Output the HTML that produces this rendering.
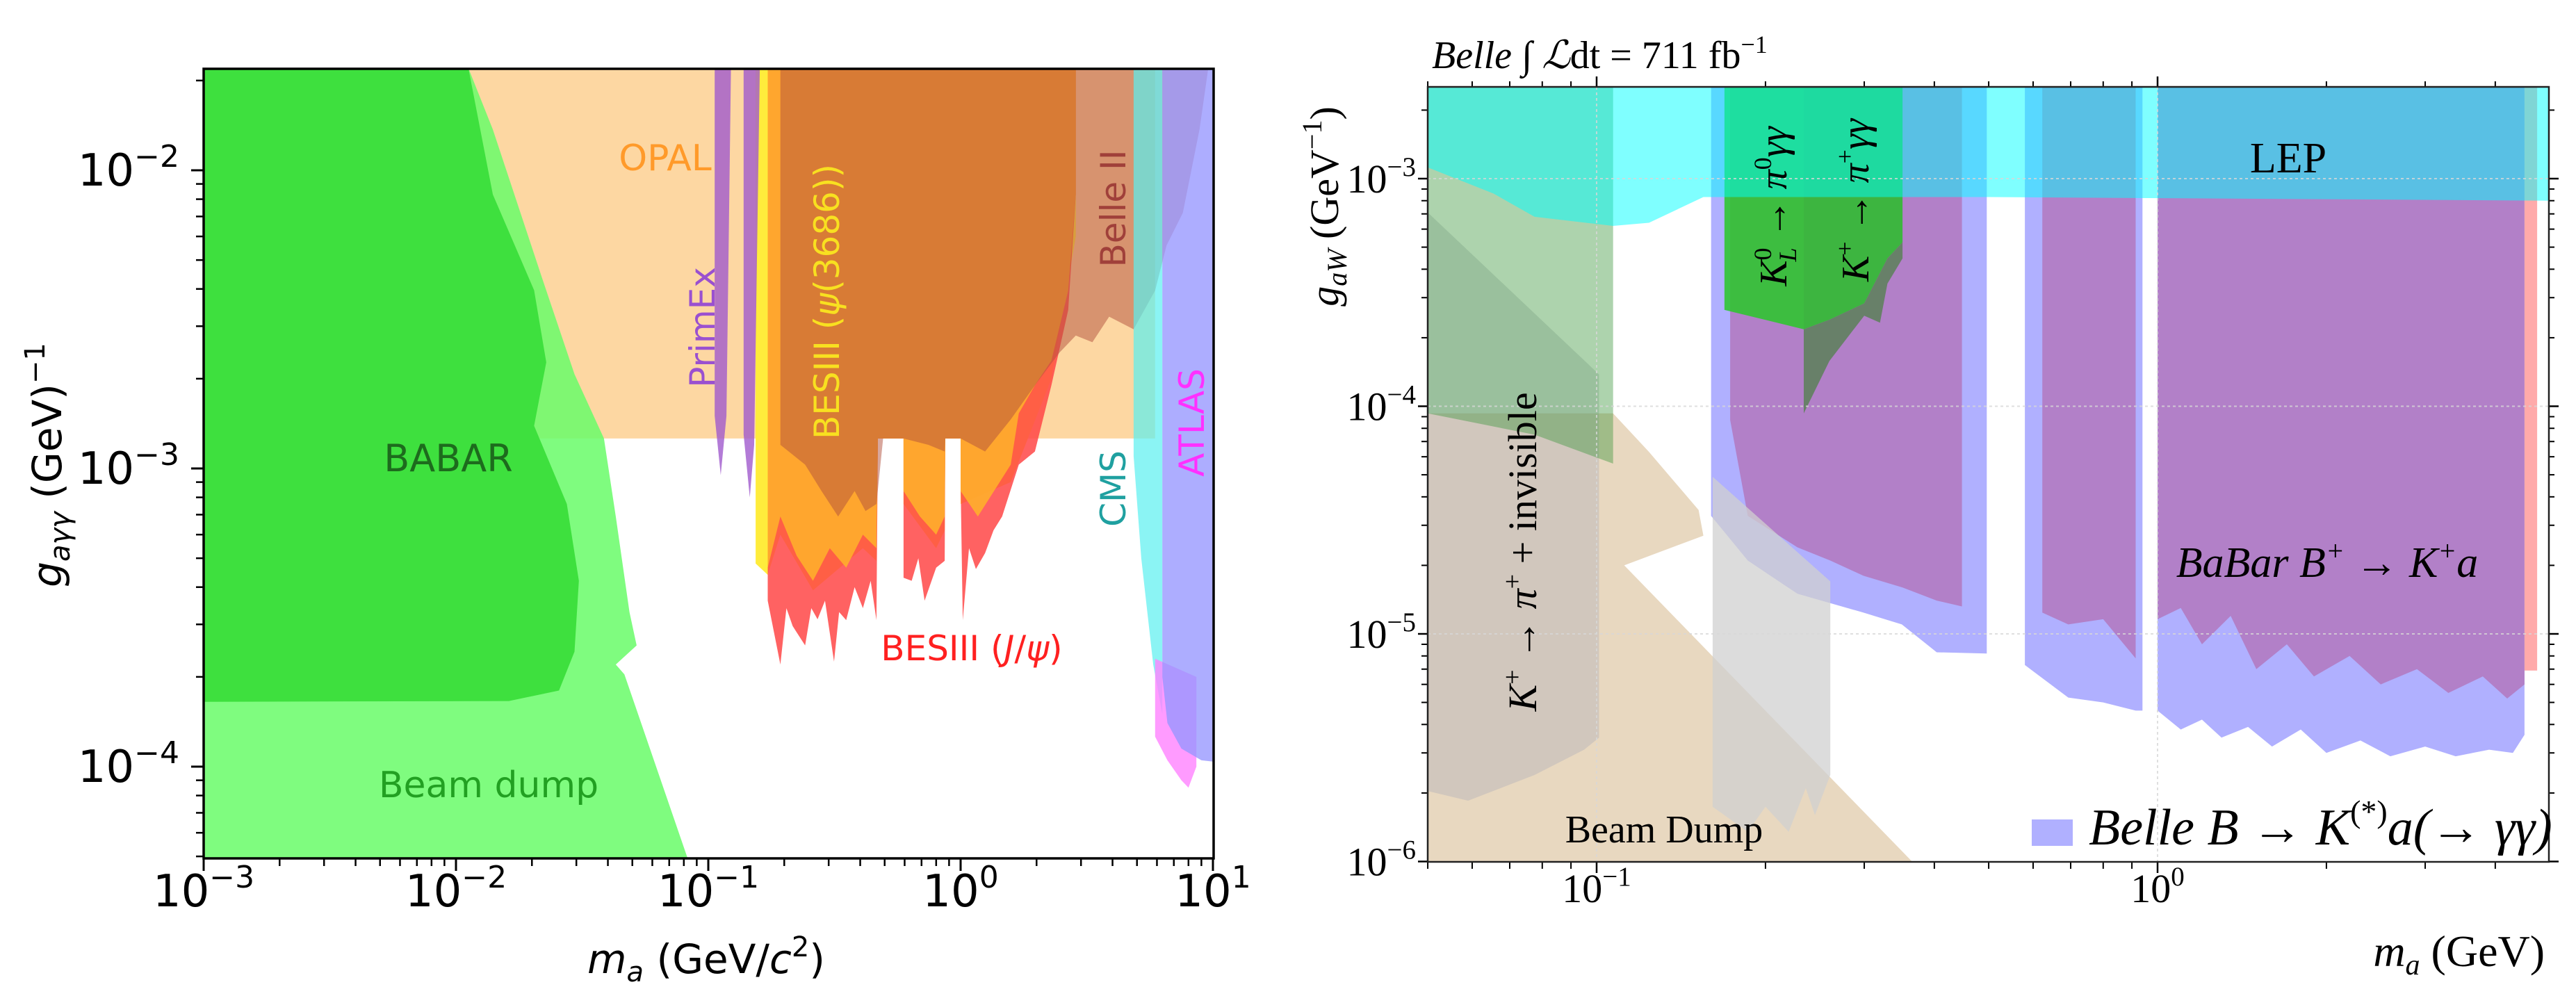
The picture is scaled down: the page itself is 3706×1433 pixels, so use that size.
<!DOCTYPE html>
<html><head><meta charset="utf-8"><title>Axion constraints</title>
<style>
html,body{margin:0;padding:0;background:#fff;width:3706px;height:1433px;overflow:hidden;}
svg{display:block;overflow:hidden;}
.sans{font-family:"DejaVu Sans","Liberation Sans",sans-serif;}
.serif{font-family:"Liberation Serif","DejaVu Serif",serif;}
</style></head>
<body>
<svg id="fig" xmlns="http://www.w3.org/2000/svg" width="3706" height="1433" viewBox="0 0 3706 1433">
<defs>
<clipPath id="clipL"><rect x="293" y="99" width="1453" height="1136"/></clipPath>
<clipPath id="clipR"><rect x="2054" y="125" width="1613" height="1115"/></clipPath>
</defs>
<rect x="0" y="0" width="3706" height="1433" fill="#fff"/>
<g id="layerL" clip-path="url(#clipL)"></g>
<g id="axesL"></g>
<g id="layerR" clip-path="url(#clipR)"></g>
<g id="axesR"></g>

<g class="sans">
<text x="957" y="245" font-size="52" fill="#ff9a2a" text-anchor="middle">OPAL</text>
<text x="645" y="678" font-size="54" fill="#1d6b1d" text-anchor="middle">BABAR</text>
<text x="703" y="1147" font-size="52" fill="#22a022" text-anchor="middle">Beam dump</text>
<text transform="translate(1028,471) rotate(-90)" font-size="50" fill="#9a50d0" text-anchor="middle">PrimEx</text>
<text transform="translate(1207,434) rotate(-90)" font-size="50" fill="#f8e020" text-anchor="middle">BESIII (<tspan font-style="italic">ψ</tspan>(3686))</text>
<text transform="translate(1619,300) rotate(-90)" font-size="50" fill="#a0403a" text-anchor="middle">Belle II</text>
<text transform="translate(1619,703) rotate(-90)" font-size="50" fill="#1fa0a0" text-anchor="middle">CMS</text>
<text transform="translate(1732,608) rotate(-90)" font-size="50" fill="#ff30ff" text-anchor="middle">ATLAS</text>
<text x="1398" y="950" font-size="50" fill="#ff2020" text-anchor="middle">BESIII (<tspan font-style="italic">J</tspan>/<tspan font-style="italic">ψ</tspan>)</text>
<text transform="translate(88,669) rotate(-90)" font-size="58" fill="#000" text-anchor="middle"><tspan font-style="italic">g</tspan><tspan font-style="italic" font-size="40" dy="12">aγγ</tspan><tspan dy="-12"> (GeV)</tspan><tspan font-size="40" dy="-24">−1</tspan></text>
<text x="1016" y="1400" font-size="58" fill="#000" text-anchor="middle"><tspan font-style="italic">m</tspan><tspan font-style="italic" font-size="40" dy="12">a</tspan><tspan dy="-12"> (GeV/</tspan><tspan font-style="italic">c</tspan><tspan font-size="40" dy="-24">2</tspan><tspan dy="24">)</tspan></text>
</g>

<g class="serif">
<text x="2060" y="98" font-size="56" fill="#000"><tspan font-style="italic">Belle</tspan> ∫ <tspan font-style="italic">ℒ</tspan>dt = 711 fb<tspan font-size="36" dy="-22">−1</tspan></text>
<text x="3292" y="248" font-size="62" fill="#000" text-anchor="middle">LEP</text>
<text x="3348" y="830" font-size="62" fill="#000" text-anchor="middle" font-style="italic">BaBar B<tspan font-size="40" dy="-24">+</tspan><tspan dy="24"> → K</tspan><tspan font-size="40" dy="-24">+</tspan><tspan dy="24">a</tspan></text>
<text x="2394" y="1212" font-size="56" fill="#000" text-anchor="middle">Beam Dump</text>
<text transform="translate(2210,794) rotate(-90)" font-size="58" fill="#000" text-anchor="middle"><tspan font-style="italic">K</tspan><tspan font-size="38" dy="-22">+</tspan><tspan dy="22"> → </tspan><tspan font-style="italic">π</tspan><tspan font-size="38" dy="-22">+</tspan><tspan dy="22"> + invisible</tspan></text>
<text transform="translate(2570,297) rotate(-90)" font-size="56" fill="#000" text-anchor="middle"><tspan font-style="italic">K</tspan><tspan font-size="36" dy="-22">0</tspan><tspan font-size="36" font-style="italic" dx="-20" dy="36">L</tspan><tspan dy="-14"> → </tspan><tspan font-style="italic">π</tspan><tspan font-size="36" dy="-22">0</tspan><tspan font-style="italic" dy="22">γγ</tspan></text>
<text transform="translate(2688,288) rotate(-90)" font-size="56" fill="#000" text-anchor="middle"><tspan font-style="italic">K</tspan><tspan font-size="36" dy="-22">+</tspan><tspan dy="22"> → </tspan><tspan font-style="italic">π</tspan><tspan font-size="36" dy="-22">+</tspan><tspan font-style="italic" dy="22">γγ</tspan></text>
<text transform="translate(1925,297) rotate(-90)" font-size="58" fill="#000" text-anchor="middle"><tspan font-style="italic">g</tspan><tspan font-style="italic" font-size="40" dy="12">aW</tspan><tspan dy="-12">  (GeV</tspan><tspan font-size="40" dy="-24">−1</tspan><tspan dy="24">)</tspan></text>
<text x="3661" y="1390" font-size="64" fill="#000" text-anchor="end"><tspan font-style="italic">m</tspan><tspan font-style="italic" font-size="42" dy="12">a</tspan><tspan dy="-12"> (GeV)</tspan></text>
<rect x="2923" y="1179" width="59" height="38" fill="#b0b0ff"/>
<text x="3005" y="1215" font-size="74" fill="#000" font-style="italic">Belle B → K<tspan font-size="46" dy="-32" font-style="normal">(*)</tspan><tspan dy="32">a(→ γγ)</tspan></text>
</g>
</svg>

<script>
const NS = "http://www.w3.org/2000/svg";
const TOPL = 0.022, BOTL = 4.9e-5, TOPR = 0.0026, BOTR = 1e-6;

// ---- Left chart data: [mass GeV, g_agg] ----
const opalRegion = [[0.01,TOPL],[5.9,TOPL],[5.9,1.26e-3],[0.01,1.26e-3]];
const beamDumpLeft = [[0.001,TOPL],[0.0112,TOPL],[0.014,0.0137],[0.0219,4.37e-3],[0.0295,2.07e-3],[0.0386,1.26e-3],[0.043,6.9e-4],[0.0487,3.3e-4],[0.052,2.55e-4],[0.043,2.2e-4],[0.0465,2.04e-4],[0.083,BOTL],[0.001,BOTL]];
const babarRegion = [[0.001,TOPL],[0.0112,TOPL],[0.014,8.3e-3],[0.0204,3.96e-3],[0.0228,2.27e-3],[0.0204,1.39e-3],[0.0275,7.6e-4],[0.0307,4.2e-4],[0.0295,2.43e-4],[0.0256,1.8e-4],[0.0162,1.66e-4],[0.001,1.65e-4]];
const primex1 = [[0.106,TOPL],[0.106,1.5e-3],[0.112,9.5e-4],[0.118,1.5e-3],[0.123,TOPL]];
const primex2 = [[0.138,TOPL],[0.138,1.3e-3],[0.146,8e-4],[0.152,1.2e-3],[0.16,TOPL]];
const yellowBottom = [[0.154,4.8e-4],[0.172,4.4e-4],[0.193,6.0e-4],[0.26,3.9e-4],[0.41,5.4e-4],[0.464,4.9e-4],[0.47,1.26e-3],[0.594,1.26e-3],[0.594,7.6e-4],[0.80,5.4e-4],[0.865,6.2e-4],[0.87,1.26e-3],[1.0,1.26e-3],[1.0,7.6e-4],[1.58,9.0e-4],[2.29,2.0e-3],[2.86,6e-3]];
const jpsiBottom = [[0.172,3.6e-4],[0.193,2.2e-4],[0.204,3.4e-4],[0.216,2.96e-4],[0.242,2.55e-4],[0.256,3.4e-4],[0.271,3.12e-4],[0.29,3.6e-4],[0.315,2.25e-4],[0.33,3.3e-4],[0.352,3.1e-4],[0.38,4.0e-4],[0.41,3.4e-4],[0.44,4.2e-4],[0.464,3.1e-4],[0.47,1.26e-3],[0.594,1.26e-3],[0.594,4.3e-4],[0.64,4.2e-4],[0.68,5.0e-4],[0.72,3.6e-4],[0.80,4.65e-4],[0.865,4.9e-4],[0.87,1.26e-3],[1.0,1.26e-3],[1.0,8.9e-4],[1.02,3.1e-4],[1.08,5.4e-4],[1.15,4.6e-4],[1.25,5.2e-4],[1.35,6.2e-4],[1.46,6.9e-4],[1.70,1.03e-3],[1.97,1.14e-3],[2.29,1.9e-3],[2.67,3.4e-3],[2.86,8.3e-3]];
const psiBottom = [[0.172,4.65e-4],[0.193,6.9e-4],[0.224,5.1e-4],[0.26,4.2e-4],[0.303,5.4e-4],[0.352,4.65e-4],[0.41,6.0e-4],[0.464,5.4e-4],[0.47,1.26e-3],[0.594,1.26e-3],[0.594,8.4e-4],[0.69,6.9e-4],[0.80,6.0e-4],[0.865,6.9e-4],[0.87,1.26e-3],[1.0,1.26e-3],[1.0,8.4e-4],[1.17,6.9e-4],[1.58,1.03e-3],[1.70,1.53e-3],[1.97,1.9e-3],[2.29,2.3e-3],[2.67,3.95e-3],[2.86,8.3e-3]];
const belle2Bottom = [[0.193,1.2e-3],[0.242,1.03e-3],[0.281,8.4e-4],[0.327,6.9e-4],[0.38,8.4e-4],[0.42,7.2e-4],[0.464,7.6e-4],[0.493,1.26e-3],[0.594,1.26e-3],[0.745,1.2e-3],[0.865,1.14e-3],[0.87,1.26e-3],[1.0,1.26e-3],[1.25,1.14e-3],[1.58,1.46e-3],[1.97,1.9e-3],[2.47,2.45e-3],[2.86,2.79e-3],[3.33,2.65e-3],[3.88,3.23e-3],[4.85,2.93e-3],[5.9,3.95e-3],[6.55,5.6e-3],[7.6,7.2e-3],[8.85,0.0137],[9.55,0.0215]];
const cmsRegion = [[4.85,TOPL],[4.85,1.1e-3],[5.2,5e-4],[5.8,2.2e-4],[6.3,1.5e-4],[6.3,TOPL]];
const magentaRegion = [[5.9,2.3e-4],[5.9,1.26e-4],[6.6,1.05e-4],[7.5,9e-5],[8.0,8.5e-5],[8.6,1.0e-4],[8.6,2e-4]];
const atlasRegion = [[6.3,TOPL],[6.3,2e-4],[6.6,1.4e-4],[7.5,1.15e-4],[9.0,1.05e-4],[10,1.04e-4],[10,TOPL]];
const xTicksL = [-3,-2,-1,0,1];
const yTicksL = [-4,-3,-2];

// ---- Right chart data: [mass GeV, g_aW] ----
const beamDumpRight = [[0.05,9.3e-5],[0.107,9.3e-5],[0.124,6.3e-5],[0.152,3.5e-5],[0.155,2.7e-5],[0.112,2.0e-5],[0.365,BOTR],[0.05,BOTR]];
const kInvGrey = [[0.05,7.1e-4],[0.101,1.38e-4],[0.101,3.5e-6],[0.095,3.1e-6],[0.0775,2.4e-6],[0.059,1.85e-6],[0.05,2.04e-6]];
const kInvGreen = [[0.05,TOPR],[0.107,TOPR],[0.107,5.6e-5],[0.0775,7.5e-5],[0.05,9.3e-5]];
const belleLav1 = [[0.16,TOPR],[0.16,3.3e-5],[0.186,2.1e-5],[0.228,1.5e-5],[0.299,1.24e-5],[0.35,1.1e-5],[0.404,8.3e-6],[0.496,8.2e-6],[0.496,TOPR]];
const belleLav2 = [[0.58,TOPR],[0.58,7.3e-6],[0.693,5.25e-6],[0.8,5.0e-6],[0.914,4.6e-6],[0.94,4.6e-6],[0.94,TOPR]];
const belleLav3 = [[1.0,TOPR],[1.0,4.6e-6],[1.1,3.8e-6],[1.2,4.2e-6],[1.3,3.5e-6],[1.45,3.9e-6],[1.6,3.2e-6],[1.8,3.8e-6],[2.0,3.0e-6],[2.3,3.4e-6],[2.6,2.9e-6],[3.0,3.2e-6],[3.4,2.9e-6],[3.9,3.1e-6],[4.3,3.0e-6],[4.51,3.6e-6],[4.51,TOPR]];
const babarPur1 = [[0.173,TOPR],[0.173,8.7e-5],[0.186,3.3e-5],[0.228,2.4e-5],[0.261,2.1e-5],[0.299,1.8e-5],[0.351,1.6e-5],[0.404,1.4e-5],[0.448,1.32e-5],[0.448,TOPR]];
const babarPur2 = [[0.623,TOPR],[0.623,1.24e-5],[0.693,1.1e-5],[0.8,1.16e-5],[0.914,7.8e-6],[0.914,TOPR]];
const babarPur3 = [[1.0,TOPR],[1.0,1.16e-5],[1.1,1.3e-5],[1.2,9e-6],[1.35,1.2e-5],[1.5,7e-6],[1.7,9e-6],[1.9,6.5e-6],[2.2,8e-6],[2.5,6e-6],[2.9,7e-6],[3.3,5.5e-6],[3.8,6.5e-6],[4.2,5.2e-6],[4.51,6e-6],[4.51,TOPR]];
const pinkStrip = [[4.51,TOPR],[4.51,6.9e-6],[4.75,6.9e-6],[4.75,TOPR]];
const greyCenter = [[0.161,4.9e-5],[0.261,1.7e-5],[0.261,2.4e-6],[0.245,1.6e-6],[0.236,2.1e-6],[0.22,1.35e-6],[0.2,1.74e-6],[0.186,1.35e-6],[0.161,1.74e-6]];
const klGreen = [[0.169,TOPR],[0.234,TOPR],[0.234,2.18e-4],[0.169,2.65e-4]];
const kpGreen = [[0.234,TOPR],[0.351,TOPR],[0.351,5.25e-4],[0.33,4.46e-4],[0.3,2.83e-4],[0.26,2.4e-4],[0.234,2.18e-4]];
const kpDark = [[0.234,2.18e-4],[0.26,2.4e-4],[0.3,2.83e-4],[0.33,4.46e-4],[0.351,5.25e-4],[0.351,4.46e-4],[0.33,3.46e-4],[0.32,2.33e-4],[0.3,2.5e-4],[0.26,1.58e-4],[0.234,9.3e-5]];
const lepBottom = [[0.05,1.12e-3],[0.0655,8.6e-4],[0.0775,6.8e-4],[0.107,6.2e-4],[0.124,6.4e-4],[0.155,8.3e-4],[0.5,8.3e-4],[5,8.0e-4]];
const xTicksR = [-1,0];
const yTicksR = [-6,-5,-4,-3];

function xL(m){ return 293 + 363*(Math.log10(m)+3); }
function yL(g){ return 245 - 429*(Math.log10(g)+2); }
function xR(m){ return 3104 + 807*Math.log10(m); }
function yR(g){ return 257 - 327.5*(Math.log10(g)+3); }

function pathD(pts, fx, fy){
  return pts.map((p,i)=>(i?'L':'M')+fx(p[0]).toFixed(1)+','+fy(p[1]).toFixed(1)).join('')+'Z';
}
function withTop(bottom, top){
  return [[bottom[0][0],top]].concat(bottom).concat([[bottom[bottom.length-1][0],top]]);
}
function addPoly(parent, pts, fx, fy, fill, name){
  const p = document.createElementNS(NS,'path');
  p.setAttribute('d', pathD(pts, fx, fy));
  p.setAttribute('fill', fill);
  
  
  parent.appendChild(p);
}

const gL = document.getElementById('layerL');
addPoly(gL, opalRegion, xL, yL, 'rgba(250,172,60,0.48)', 'opal-region');
addPoly(gL, beamDumpLeft, xL, yL, 'rgba(106,252,106,0.86)', 'beam-dump-region');
addPoly(gL, babarRegion, xL, yL, 'rgb(62,224,62)', 'babar-region');
addPoly(gL, withTop(yellowBottom,TOPL), xL, yL, 'rgb(255,236,60)', 'besiii-psi3686-yellow-edge');
addPoly(gL, withTop(jpsiBottom,TOPL), xL, yL, 'rgba(255,70,70,0.85)', 'besiii-jpsi-region');
addPoly(gL, withTop(psiBottom,TOPL), xL, yL, 'rgba(255,172,45,0.92)', 'besiii-psi3686-region');
addPoly(gL, withTop(belle2Bottom,TOPL), xL, yL, 'rgba(178,80,60,0.5)', 'belle-ii-region');
addPoly(gL, primex1, xL, yL, 'rgba(160,90,205,0.8)', 'primex-region-1');
addPoly(gL, primex2, xL, yL, 'rgba(160,90,205,0.8)', 'primex-region-2');
addPoly(gL, cmsRegion, xL, yL, 'rgba(90,240,240,0.7)', 'cms-region');
addPoly(gL, magentaRegion, xL, yL, 'rgba(255,130,255,0.8)', 'atlas-magenta-region');
addPoly(gL, atlasRegion, xL, yL, 'rgba(150,150,255,0.78)', 'atlas-region');

const gR = document.getElementById('layerR');
addPoly(gR, beamDumpRight, xR, yR, 'rgb(232,216,192)', 'beam-dump-region');
addPoly(gR, kInvGrey, xR, yR, 'rgba(170,170,185,0.38)', 'k-pi-invisible-grey-region');
addPoly(gR, kInvGreen, xR, yR, 'rgba(60,150,60,0.42)', 'k-pi-invisible-region');
addPoly(gR, belleLav1, xR, yR, 'rgb(176,176,255)', 'belle-region-1');
addPoly(gR, belleLav2, xR, yR, 'rgb(176,176,255)', 'belle-region-2');
addPoly(gR, belleLav3, xR, yR, 'rgb(176,176,255)', 'belle-region-3');
addPoly(gR, babarPur1, xR, yR, 'rgb(178,128,200)', 'babar-region-1');
addPoly(gR, babarPur2, xR, yR, 'rgb(178,128,200)', 'babar-region-2');
addPoly(gR, babarPur3, xR, yR, 'rgb(178,128,200)', 'babar-region-3');
addPoly(gR, pinkStrip, xR, yR, 'rgb(255,170,170)', 'pink-strip-region');
addPoly(gR, greyCenter, xR, yR, 'rgba(208,208,208,0.75)', 'grey-center-region');
addPoly(gR, klGreen, xR, yR, 'rgba(40,200,40,0.85)', 'kl-pi0-gamma-gamma-region');
addPoly(gR, kpGreen, xR, yR, 'rgba(40,190,40,0.85)', 'k-pi-gamma-gamma-region');
addPoly(gR, kpDark, xR, yR, 'rgba(100,128,100,0.95)', 'k-pi-gamma-gamma-dark-region');
addPoly(gR, withTop(lepBottom,TOPR), xR, yR, 'rgba(0,255,255,0.5)', 'lep-region');

function line(parent, x1,y1,x2,y2, stroke, w, name, dash){
  const l = document.createElementNS(NS,'line');
  l.setAttribute('x1',x1); l.setAttribute('y1',y1); l.setAttribute('x2',x2); l.setAttribute('y2',y2);
  l.setAttribute('stroke',stroke); l.setAttribute('stroke-width',w);
  if(dash) l.setAttribute('stroke-dasharray',dash);
  
  
  parent.appendChild(l);
}
function powLabel(parent, x, y, exp, anchor, cls, size, name){
  const t = document.createElementNS(NS,'text');
  t.setAttribute('x',x); t.setAttribute('y',y);
  t.setAttribute('text-anchor',anchor);
  t.setAttribute('class',cls);
  t.setAttribute('font-size',size);
  
  
  t.textContent = '10';
  const s = document.createElementNS(NS,'tspan');
  s.setAttribute('font-size', Math.round(size*0.68));
  s.setAttribute('dy', -Math.round(size*0.42));
  s.textContent = (exp<0?'−':'')+Math.abs(exp);
  t.appendChild(s);
  parent.appendChild(t);
}

const aL = document.getElementById('axesL');
for(let d=-3; d<1; d++){
  for(let k=2;k<10;k++){ const x=xL(k*Math.pow(10,d)); line(aL,x,1235,x,1246,'#000',2.5,'x-minor-tick'); }
}
xTicksL.forEach(e=>{ const x=xL(Math.pow(10,e)); line(aL,x,1235,x,1253,'#000',3,'x-major-tick'); powLabel(aL,x,1304,e,'middle','sans',64,'x-tick-label'); });
for(let d=-5; d<-1; d++){
  for(let k=2;k<10;k++){ const y=yL(k*Math.pow(10,d)); if(y>=99&&y<=1235) line(aL,282,y,293,y,'#000',2.5,'y-minor-tick'); }
}
yTicksL.forEach(e=>{ const y=yL(Math.pow(10,e)); line(aL,275,y,293,y,'#000',3,'y-major-tick'); powLabel(aL,258,y+22,e,'end','sans',64,'y-tick-label'); });
const frL = document.createElementNS(NS,'rect');
frL.setAttribute('x',293); frL.setAttribute('y',99); frL.setAttribute('width',1453); frL.setAttribute('height',1136);
frL.setAttribute('fill','none'); frL.setAttribute('stroke','#000'); frL.setAttribute('stroke-width',3.5);


aL.appendChild(frL);

const aR = document.getElementById('axesR');
xTicksR.forEach(e=>{ const x=xR(Math.pow(10,e)); line(aR,x,125,x,1240,'rgba(215,215,215,0.8)',2,'x-grid-line','4,4'); });
yTicksR.forEach(e=>{ const y=yR(Math.pow(10,e)); if(e>-6) line(aR,2054,y,3667,y,'rgba(215,215,215,0.8)',2,'y-grid-line','4,4'); });
for(let d=-2; d<1; d++){
  for(let k=2;k<10;k++){ const m=k*Math.pow(10,d); const x=xR(m); if(x>2054&&x<3667){ line(aR,x,1240,x,1250,'#000',2,'x-minor-tick'); line(aR,x,125,x,117,'#000',2,'x-minor-tick-top'); } }
}
xTicksR.forEach(e=>{ const x=xR(Math.pow(10,e)); line(aR,x,1240,x,1256,'#000',2.5,'x-major-tick'); line(aR,x,125,x,110,'#000',2.5,'x-major-tick-top'); powLabel(aR,x,1298,e,'middle','serif',58,'x-tick-label'); });
for(let d=-6; d<-2; d++){
  for(let k=2;k<10;k++){ const y=yR(k*Math.pow(10,d)); if(y>125&&y<1240){ line(aR,2045,y,2054,y,'#000',2,'y-minor-tick'); line(aR,3667,y,3675,y,'#000',2,'y-minor-tick-right'); } }
}
yTicksR.forEach(e=>{ const y=yR(Math.pow(10,e)); line(aR,2040,y,2054,y,'#000',2.5,'y-major-tick'); line(aR,3667,y,3681,y,'#000',2.5,'y-major-tick-right'); powLabel(aR,2037,y+20,e,'end','serif',58,'y-tick-label'); });
const frR = document.createElementNS(NS,'rect');
frR.setAttribute('x',2054); frR.setAttribute('y',125); frR.setAttribute('width',1613); frR.setAttribute('height',1115);
frR.setAttribute('fill','none'); frR.setAttribute('stroke','#222'); frR.setAttribute('stroke-width',2.5);


aR.appendChild(frR);
</script>
</body></html>
